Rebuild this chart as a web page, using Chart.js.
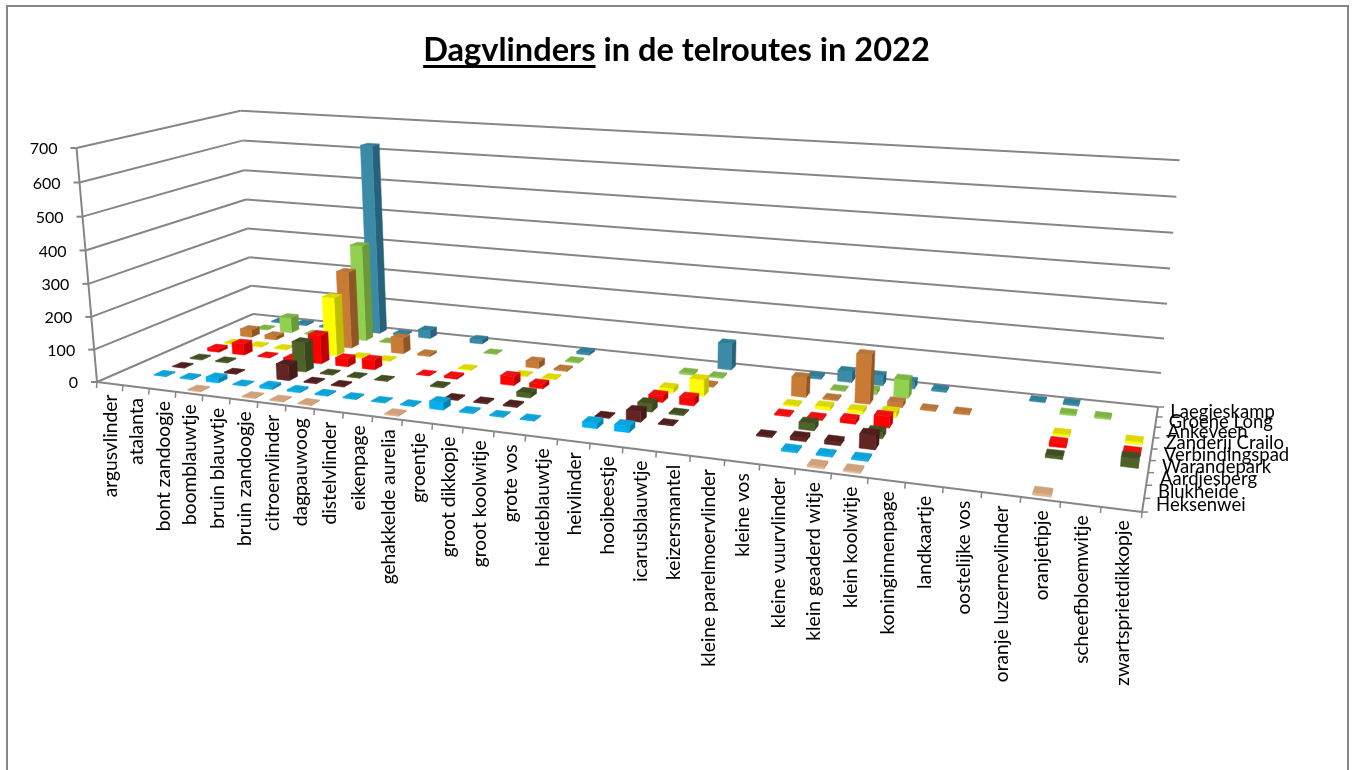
<!DOCTYPE html>
<html>
<head>
<meta charset="utf-8">
<title>Dagvlinders in de telroutes in 2022</title>
<script src="https://cdn.jsdelivr.net/npm/chart.js@4"></script>
<style>
html, body { margin: 0; padding: 0; background: #fff; overflow: hidden; }
canvas { display: block; }
</style>
</head>
<body>
<canvas id="chart" width="1353" height="770"></canvas>
<script>
const n = null;

const categories = ['argusvlinder','atalanta','bont zandoogje','boomblauwtje','bruin blauwtje','bruin zandoogje','citroenvlinder','dagpauwoog','distelvlinder','eikenpage','gehakkelde aurelia','groentje','groot dikkopje','groot koolwitje','grote vos','heideblauwtje','heivlinder','hooibeestje','icarusblauwtje','keizersmantel','kleine parelmoervlinder','kleine vos','kleine vuurvlinder','klein geaderd witje','klein koolwitje','koninginnenpage','landkaartje','oostelijke vos','oranje luzernevlinder','oranjetipje','scheefbloemwitje','zwartsprietdikkopje'];
const seriesNames = ['Heksenwei','Blukheide','Aardjesberg','Warandepark','Verbindingspad','Zanderij Crailo','Ankeveen','Groene Long','Laegieskamp'];

const heksenwei =      [n,n,n,3,n,3,3,3,n,n,4,n,n,n,n,n,n,n,n,n,n,n,n,6,5,n,n,n,n,6,n,n];
const blukheide =      [n,2,3,14,2,8,5,3,3,2,2,22,3,2,2,n,16,18,n,n,n,n,5,4,5,n,n,n,n,n,n,n];
const aardjesberg =    [n,2,n,2,n,48,3,3,n,n,n,3,3,4,n,n,2,30,2,n,n,3,10,10,40,n,n,n,n,n,n,n];
const warandepark =    [n,3,3,n,n,92,2,2,2,n,3,n,n,14,n,n,n,24,4,n,n,n,20,n,17,n,n,n,n,8,n,25];
const verbindingspad = [n,10,36,3,6,90,25,30,n,2,6,n,27,13,n,n,n,19,23,n,n,4,5,12,32,n,n,n,n,12,n,9];
const zanderijCrailo = [n,2,3,3,n,187,3,3,n,n,3,n,3,3,n,n,n,14,50,n,n,4,10,10,15,n,n,n,n,6,n,8];
const ankeveen =       [n,24,12,n,n,247,n,50,6,n,n,n,20,4,n,n,n,n,4,n,n,58,4,145,14,4,5,n,n,n,n,n];
const groeneLong =     [n,2,50,2,n,313,2,n,n,n,2,n,n,4,n,n,n,6,4,n,n,n,3,12,55,n,n,n,n,5,5,n];
const laegieskamp =    [n,3,4,3,n,620,5,27,n,13,n,n,n,8,n,n,n,n,82,n,n,7,33,30,22,6,n,n,3,5,n,n];
const seriesValues = [heksenwei, blukheide, aardjesberg, warandepark, verbindingspad, zanderijCrailo, ankeveen, groeneLong, laegieskamp];

const frontColors = ['#e6b48c','#00b0f0','#632523','#4f6228','#ff0000','#ffff00','#c97b35','#92d050','#3b8ba6'];
const topColors =   ['#cfa27c','#0ea3d8','#501e1c','#414f20','#ec1010','#dcd800','#b8763a','#7fb347','#2f7f98'];
const sideColors =  ['#b98d68','#0083b3','#451a18','#39461c','#bf0000','#bfbf00','#8f5726','#6a9a3a','#28627a'];

const gridColor = '#868686';
const tickFont = '16px Lato';
const labelFont = '19.2px Lato';
const depthFont = '18.5px Lato';
const titleFont = 'bold 32.6px Lato';
const titleText = 'Dagvlinders in de telroutes in 2022';
const underlined = 'Dagvlinders';

// projective camera, fitted on the corners of the box: u along categories, v into depth, h up
const camX = [802.9, 196.1, -23.33, 97];
const camY = [21.5, -18.3, -239.5, 382];
const camW = [-0.212, 0.1584, -0.037, 1];

function project(u, v, h) {
    let w = camW[0]*u + camW[1]*v + camW[2]*h + camW[3];
    return {
        x: (camX[0]*u + camX[1]*v + camX[2]*h + camX[3]) / w,
        y: (camY[0]*u + camY[1]*v + camY[2]*h + camY[3]) / w
    };
}

function decimal(scale, value) {
    return scale.getDecimalForPixel(scale.getPixelForValue(value));
}

function line(ctx, a, b) {
    ctx.beginPath();
    ctx.moveTo(a.x, a.y);
    ctx.lineTo(b.x, b.y);
    ctx.stroke();
}

function face(ctx, pts, color) {
    ctx.fillStyle = color;
    ctx.strokeStyle = color;
    ctx.lineWidth = 0.5;
    ctx.beginPath();
    ctx.moveTo(pts[0].x, pts[0].y);
    for (let i = 1; i < pts.length; i++) ctx.lineTo(pts[i].x, pts[i].y);
    ctx.closePath();
    ctx.fill();
    ctx.stroke();
}

function area(p) {
    let s = 0;
    for (let i = 0; i < p.length; i++) {
        let q = p[(i+1) % p.length];
        s += p[i].x*q.y - q.x*p[i].y;
    }
    return s;
}

function drawWalls(ctx, chart) {
    let y = chart.scales.y;
    ctx.strokeStyle = gridColor;
    ctx.lineWidth = 2;
    y.ticks.forEach(t => {
        let h = decimal(y, t.value);
        let front = project(0, 0, h), corner = project(0, 1, h), right = project(1, 1, h);
        line(ctx, front, corner);
        line(ctx, corner, right);
        line(ctx, {x: front.x-6, y: front.y}, front);
    });
    line(ctx, project(0,0,0), project(0,0,1));
    line(ctx, project(0,0,0), project(1,0,0));
    line(ctx, project(1,0,0), project(1,1,0));

    let x = chart.scales.x, depth = chart.scales.depth;
    ctx.lineWidth = 1.5;
    for (let i = 0; i <= categories.length; i++) {
        let p = project(decimal(x, i-0.5), 0, 0);
        line(ctx, p, {x: p.x-0.5, y: p.y+6});
    }
    for (let k = 0; k <= seriesNames.length; k++) {
        let p = project(1, decimal(depth, k-0.5), 0);
        line(ctx, p, {x: p.x+6, y: p.y});
    }
}

function drawLabels(ctx, chart) {
    let x = chart.scales.x, y = chart.scales.y, depth = chart.scales.depth;
    ctx.fillStyle = '#000';

    ctx.font = tickFont;
    ctx.textAlign = 'right';
    ctx.textBaseline = 'middle';
    y.ticks.forEach(t => {
        let p = project(0, 0, decimal(y, t.value));
        ctx.fillText(t.label, p.x-19, p.y+1);
    });

    ctx.font = labelFont;
    x.getLabels().forEach((label, i) => {
        let p = project(decimal(x, i), 0, 0);
        ctx.save();
        ctx.translate(p.x+1, p.y+11);
        ctx.rotate(-Math.PI/2);
        ctx.fillText(label, 0, 0);
        ctx.restore();
    });

    ctx.font = depthFont;
    ctx.textAlign = 'left';
    depth.getLabels().forEach((label, k) => {
        let p = project(1, decimal(depth, k), 0);
        ctx.fillText(label, p.x+13, p.y);
    });
}

function drawBars(ctx, chart) {
    let x = chart.scales.x, y = chart.scales.y, depth = chart.scales.depth;
    // back row first, left to right, so nearer bars paint over the ones behind them
    for (let k = seriesNames.length-1; k >= 0; k--) {
        let meta = chart.data.datasets[k].data;
        meta.forEach((val, i) => {
            if (val === null) return;
            let u0 = decimal(x, i-0.23), u1 = decimal(x, i+0.23);
            let v0 = decimal(depth, k-0.25), v1 = decimal(depth, k+0.25);
            let h = decimal(y, val);
            let front = [project(u0,v0,0), project(u1,v0,0), project(u1,v0,h), project(u0,v0,h)];
            let right = [project(u1,v0,0), project(u1,v1,0), project(u1,v1,h), project(u1,v0,h)];
            let left = [project(u0,v1,0), project(u0,v0,0), project(u0,v0,h), project(u0,v1,h)];
            let top = [project(u0,v0,h), project(u1,v0,h), project(u1,v1,h), project(u0,v1,h)];
            if (area(right) < 0) face(ctx, right, sideColors[k]);
            if (area(left) < 0) face(ctx, left, sideColors[k]);
            face(ctx, front, frontColors[k]);
            face(ctx, top, topColors[k]);
        });
    }
}

const bars3d = {
    id: 'bars3d',
    beforeDraw(chart) {
        let ctx = chart.ctx;
        ctx.save();
        ctx.fillStyle = '#fff';
        ctx.fillRect(0, 0, chart.width, chart.height);
        ctx.strokeStyle = gridColor;
        ctx.lineWidth = 2;
        ctx.strokeRect(7, 6, 1341, 800);
        ctx.restore();
    },
    beforeDatasetsDraw(chart) {
        let ctx = chart.ctx;
        ctx.save();
        drawWalls(ctx, chart);
        drawBars(ctx, chart);
        drawLabels(ctx, chart);
        ctx.restore();
        return false;
    },
    afterDraw(chart) {
        // the title plugin has no partial underline
        let ctx = chart.ctx;
        ctx.save();
        ctx.font = titleFont;
        let start = chart.width/2 - ctx.measureText(titleText).width/2;
        ctx.fillStyle = '#000';
        ctx.fillRect(start, 65, ctx.measureText(underlined).width, 3);
        ctx.restore();
    }
};

new Chart(document.getElementById('chart'), {
    type: 'bar',
    plugins: [bars3d],
    data: {
        labels: categories,
        datasets: seriesNames.map((name, k) => ({
            label: name,
            data: seriesValues[k],
            backgroundColor: frontColors[k],
            xAxisID: 'x',
            yAxisID: 'y'
        }))
    },
    options: {
        responsive: false,
        animation: false,
        scales: {
            x: { type: 'category', display: false, offset: true, ticks: { autoSkip: false } },
            depth: { type: 'category', axis: 'x', labels: seriesNames, display: false, offset: true, ticks: { autoSkip: false } },
            y: { type: 'linear', display: false, min: 0, max: 700, ticks: { stepSize: 100 } }
        },
        plugins: {
            legend: { display: false },
            tooltip: { enabled: false },
            title: {
                display: true,
                text: titleText,
                color: '#000',
                font: { family: 'Lato', size: 32.6, weight: 'bold' },
                padding: { top: 31, bottom: 0 }
            }
        }
    }
});
</script>
</body>
</html>
